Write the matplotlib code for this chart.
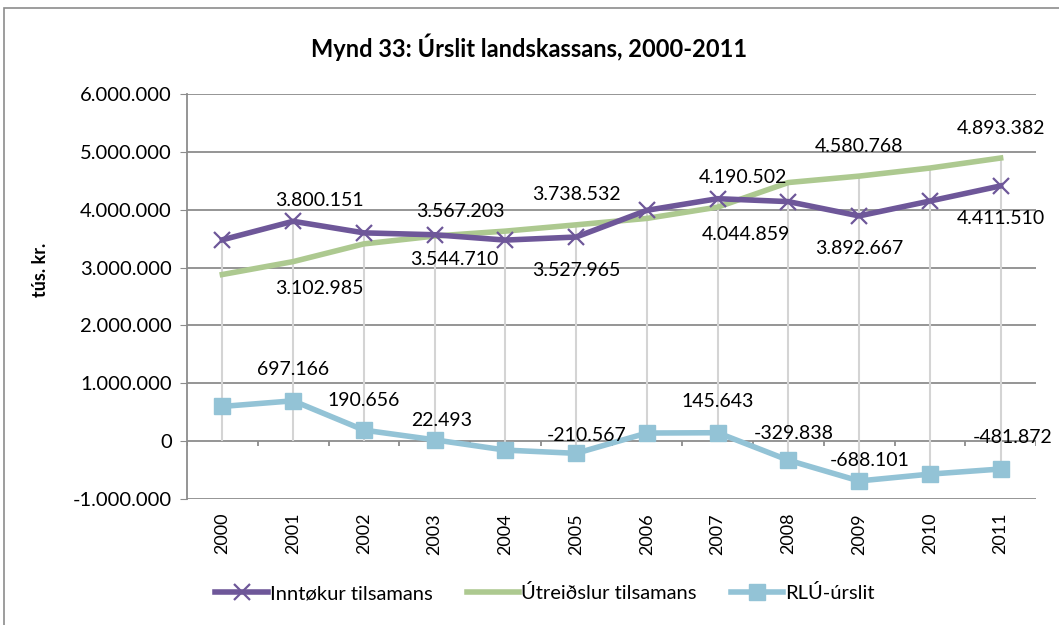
import matplotlib
matplotlib.use("Agg")
import matplotlib.pyplot as plt
from matplotlib.patches import Rectangle
from matplotlib.ticker import FuncFormatter
import numpy as np

# Data
years = ["2000", "2001", "2002", "2003", "2004", "2005",
         "2006", "2007", "2008", "2009", "2010", "2011"]
inntokur = [3480000, 3800151, 3600000, 3567203, 3475000, 3527965,
            3990000, 4190502, 4140000, 3892667, 4150000, 4411510]
utreidslur = [2880000, 3102985, 3409344, 3544710, 3630000, 3738532,
              3850000, 4044859, 4469838, 4580768, 4720000, 4893382]
rlu = [600000, 697166, 190656, 22493, -155000, -210567,
       140000, 145643, -329838, -688101, -570000, -481872]

# which points carry a value label
inn_labelled = [1, 3, 5, 7, 9, 11]
utr_labelled = [1, 3, 5, 7, 9, 11]
rlu_labelled = [1, 2, 3, 5, 7, 8, 9, 11]

# label offsets in pixels (dx, dy)
inn_offsets = [(26, 21), (26, 23), (0, -33), (25, 21), (0, -33), (0, -33)]
utr_offsets = [(26, -27), (20, -23), (0, 30), (28, -27), (0, 30), (0, 30)]
rlu_offsets = [(0, 31), (0, 30), (7, 19), (11, 18), (0, 31), (5, 27), (11, 20), (12, 32)]

PURPLE = "#6e5799"
GREEN = "#adc990"
BLUE = "#93c3d6"
FONT = "Lato"

plt.rcParams["font.family"] = [FONT, "DejaVu Sans"]


def dotted(v):
    return f"{int(round(v)):,}".replace(",", ".")


fig = plt.figure(figsize=(10.59, 6.25), dpi=100)
fig.patches.append(Rectangle((4 / 1059, -0.1), 1.2, 1.1 - 8 / 625, transform=fig.transFigure,
                             fill=False, edgecolor="#8c8c8c", linewidth=1.2))
ax = fig.add_axes([187 / 1059, 1 - 499 / 625, (1036 - 187) / 1059, (499 - 94) / 625])

x = np.arange(len(years))

# drop lines
tops = np.max([inntokur, utreidslur, rlu], axis=0)
bots = np.minimum(0, np.min([inntokur, utreidslur, rlu], axis=0))
ax.vlines(x, bots, tops, color="#d4d4d4", linewidth=1.5, zorder=1)

ax.plot(x, inntokur, color=PURPLE, linewidth=4, marker="x", markersize=11,
        markeredgewidth=1.6, label="Inntøkur tilsamans", zorder=4)
ax.plot(x, utreidslur, color=GREEN, linewidth=4, label="Útreiðslur tilsamans", zorder=3)
ax.plot(x, rlu, color=BLUE, linewidth=4, marker="s", markersize=11,
        label="RLÚ-úrslit", zorder=4)

for series, idxs, offs in [(inntokur, inn_labelled, inn_offsets),
                           (utreidslur, utr_labelled, utr_offsets),
                           (rlu, rlu_labelled, rlu_offsets)]:
    for i, (dx, dy) in zip(idxs, offs):
        ax.annotate(dotted(series[i]), (x[i], series[i]), xytext=(dx, dy),
                    textcoords="offset pixels", ha="center", va="center",
                    fontsize=14, zorder=6)

# axes styling
ax.set_xlim(-0.5, len(years) - 0.5)
ax.set_ylim(-1000000, 6000000)
ax.set_yticks(np.arange(-1000000, 6000001, 1000000))
ax.yaxis.set_major_formatter(FuncFormatter(lambda v, p: dotted(v)))
ax.grid(axis="y", color="#8c8c8c", linewidth=1.3, zorder=0)
ax.set_axisbelow(True)
for s in ["top", "right", "bottom"]:
    ax.spines[s].set_visible(False)
ax.spines["left"].set_color("#8c8c8c")
ax.spines["left"].set_linewidth(1.3)
ax.tick_params(axis="y", length=5, color="#8c8c8c", labelsize=14.5, pad=6)
ax.set_xticks(x)
ax.set_xticklabels(years, rotation=90, fontsize=13)
ax.tick_params(axis="x", length=0, pad=10)

# category tick marks on the zero line
mids = np.arange(-0.5, len(years), 1.0)
ax.vlines(mids, -90000, 0, color="#8c8c8c", linewidth=1.3, zorder=2)

fig.text(0.5, 1 - 47 / 625, "Mynd 33: Úrslit landskassans, 2000-2011",
         ha="center", va="center", fontsize=17, fontweight="bold")
fig.text(40 / 1059, 1 - 270 / 625, "tús. kr.", rotation=90, ha="center", va="center",
         fontsize=13, fontweight="bold")

fig.legend(loc="center", bbox_to_anchor=(545 / 1059, 1 - 593 / 625), ncol=3,
           frameon=False, fontsize=14.5, handlelength=2.6, columnspacing=1.7,
           handletextpad=0.1)

fig.savefig("out.png", dpi=100)
